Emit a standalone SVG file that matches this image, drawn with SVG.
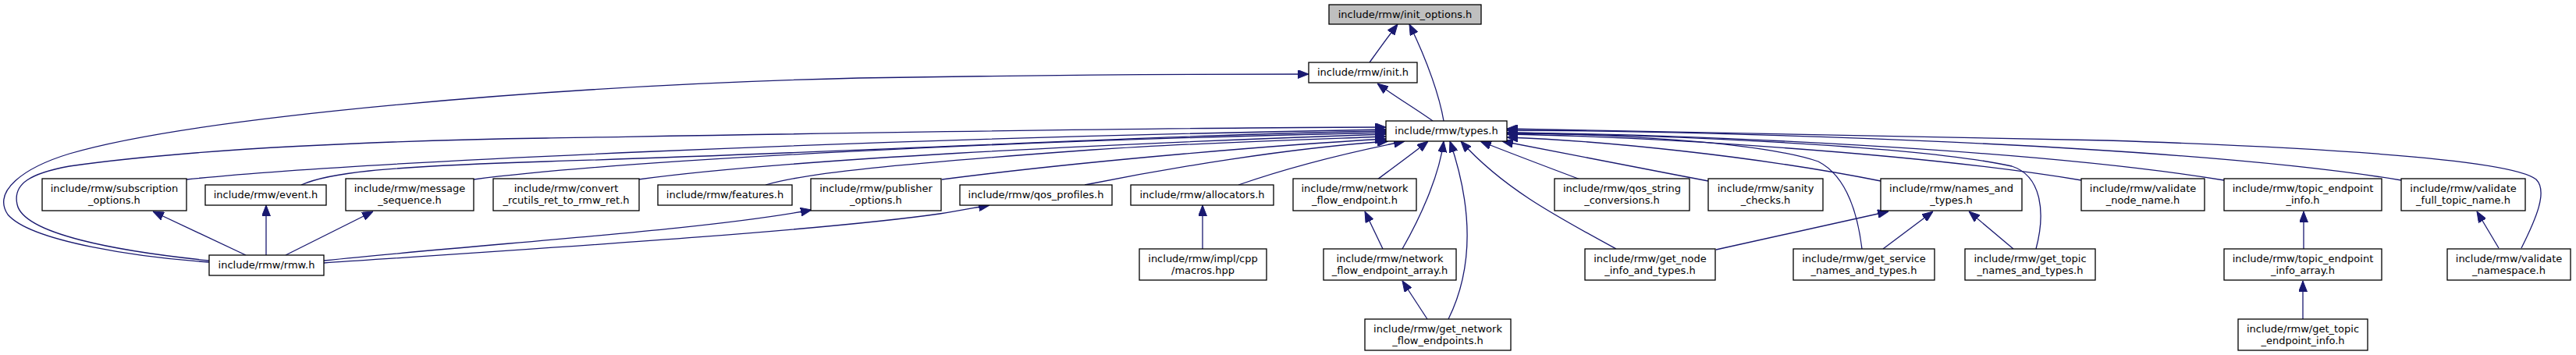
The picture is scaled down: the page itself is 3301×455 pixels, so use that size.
<svg xmlns="http://www.w3.org/2000/svg" width="3301" height="455" viewBox="0 0 3301 455">
<style>
.node rect{fill:#ffffff;stroke:#000000;stroke-width:1.3}
.node rect.root{fill:#bfbfbf}
.node text{font-family:"DejaVu Sans","Liberation Sans",sans-serif;font-size:13px;text-anchor:middle;fill:#000000}
.edges path{fill:none;stroke:#191970;stroke-width:1.3;marker-end:url(#arr)}
</style>
<defs>
<marker id="arr" viewBox="0 0 14 11" refX="14" refY="5.5" markerWidth="14" markerHeight="11" markerUnits="userSpaceOnUse" orient="auto">
<path d="M0,0 L14,5.5 L0,11 Z" fill="#191970" stroke="#191970" stroke-width="1"/>
</marker>
</defs>
<rect x="0" y="0" width="3301" height="455" fill="#ffffff"/>
<g class="edges">
<path d="M1755,80 C1765,66 1778,48 1791,31"/>
<path d="M1850,155 C1845,125 1830,80 1806,31"/>
<path d="M1836,155 C1815,140 1785,122 1765,107"/>
<path d="M268,336 C180,330 40,310 10,275 C-10,245 30,215 89,197 C250,150 700,110 1100,100 C1400,95 1550,95 1677,95"/>
<path d="M268,334 C150,322 30,300 22,262 C16,235 40,222 89,213 C250,190 500,180 700,177 C1000,172 1500,163 1776,163"/>
<path d="M239,230 C450,208 1100,178 1776,166"/>
<path d="M386,237 C420,222 480,214 700,207 C1100,195 1500,172 1776,168"/>
<path d="M607,230 C800,205 1300,180 1776,170"/>
<path d="M818,230 C1000,205 1400,185 1776,172"/>
<path d="M981,237 C1030,222 1150,210 1400,192 C1550,182 1700,178 1776,175"/>
<path d="M1207,230 C1400,205 1650,185 1776,178"/>
<path d="M1390,237 C1500,215 1650,190 1779,181"/>
<path d="M1587,237 C1650,215 1730,195 1800,181"/>
<path d="M1765,230 C1785,215 1810,197 1830,181"/>
<path d="M1797,319 C1825,270 1845,220 1850,181"/>
<path d="M1856,409 C1890,340 1885,260 1858,181"/>
<path d="M2071,319 C1990,275 1925,240 1872,181"/>
<path d="M2025,230 C1985,215 1940,198 1897,181"/>
<path d="M2189,232 C2100,215 2010,198 1925,181"/>
<path d="M2410,232 C2250,200 2050,180 1931,176"/>
<path d="M2386,319 C2380,270 2365,225 2330,207 C2250,180 2050,172 1931,170"/>
<path d="M2609,319 C2622,270 2615,225 2578,213 C2450,185 2100,172 1931,171"/>
<path d="M2667,231 C2450,195 2100,175 1931,172"/>
<path d="M2850,231 C2600,190 2150,172 1931,170"/>
<path d="M3077,231 C2800,185 2200,168 1931,167"/>
<path d="M3231,318 C3250,280 3265,245 3250,230 C3220,205 3000,190 2700,180 C2400,172 2100,166 1931,165"/>
<path d="M315,327 L196,271"/>
<path d="M341,327 L341,263"/>
<path d="M366,327 L478,271"/>
<path d="M415,334 C650,310 900,295 1040,269"/>
<path d="M415,337 C700,318 1050,296 1204,274 C1230,270 1250,266 1268,263"/>
<path d="M1541,319 L1541,263"/>
<path d="M1772,319 L1749,271"/>
<path d="M1829,409 L1797,360"/>
<path d="M2199,320 L2420,271"/>
<path d="M2413,319 L2477,271"/>
<path d="M2580,319 L2523,271"/>
<path d="M2952,319 L2952,271"/>
<path d="M2951,409 L2951,360"/>
<path d="M3202,318 L3174,271"/>
</g>
<g id="node_init_options" class="node"><rect class="root" x="1703" y="6" width="195" height="25"/><text x="1800.5" y="22.5">include/rmw/init_options.h</text></g>
<g id="node_init" class="node"><rect x="1677" y="80" width="139" height="26"/><text x="1746.5" y="96.5">include/rmw/init.h</text></g>
<g id="node_types" class="node"><rect x="1776" y="155" width="155" height="26"/><text x="1853.5" y="171.5">include/rmw/types.h</text></g>
<g id="node_subscription_options" class="node"><rect x="54" y="229" width="185" height="41"/><text x="146.5" y="245.5">include/rmw/subscription</text><text x="146.5" y="260.5">_options.h</text></g>
<g id="node_event" class="node"><rect x="263" y="237" width="155" height="26"/><text x="340.5" y="253.5">include/rmw/event.h</text></g>
<g id="node_message_sequence" class="node"><rect x="443" y="229" width="164" height="41"/><text x="525" y="245.5">include/rmw/message</text><text x="525" y="260.5">_sequence.h</text></g>
<g id="node_convert" class="node"><rect x="632" y="229" width="187" height="41"/><text x="725.5" y="245.5">include/rmw/convert</text><text x="725.5" y="260.5">_rcutils_ret_to_rmw_ret.h</text></g>
<g id="node_features" class="node"><rect x="843" y="237" width="172" height="26"/><text x="929" y="253.5">include/rmw/features.h</text></g>
<g id="node_publisher_options" class="node"><rect x="1039" y="229" width="167" height="41"/><text x="1122.5" y="245.5">include/rmw/publisher</text><text x="1122.5" y="260.5">_options.h</text></g>
<g id="node_qos_profiles" class="node"><rect x="1230" y="237" width="195" height="26"/><text x="1327.5" y="253.5">include/rmw/qos_profiles.h</text></g>
<g id="node_allocators" class="node"><rect x="1449" y="237" width="183" height="26"/><text x="1540.5" y="253.5">include/rmw/allocators.h</text></g>
<g id="node_network_flow_endpoint" class="node"><rect x="1657" y="229" width="158" height="41"/><text x="1736" y="245.5">include/rmw/network</text><text x="1736" y="260.5">_flow_endpoint.h</text></g>
<g id="node_qos_string_conversions" class="node"><rect x="1992" y="229" width="173" height="41"/><text x="2078.5" y="245.5">include/rmw/qos_string</text><text x="2078.5" y="260.5">_conversions.h</text></g>
<g id="node_sanity_checks" class="node"><rect x="2189" y="229" width="147" height="41"/><text x="2262.5" y="245.5">include/rmw/sanity</text><text x="2262.5" y="260.5">_checks.h</text></g>
<g id="node_names_and_types" class="node"><rect x="2410" y="229" width="181" height="41"/><text x="2500.5" y="245.5">include/rmw/names_and</text><text x="2500.5" y="260.5">_types.h</text></g>
<g id="node_validate_node_name" class="node"><rect x="2667" y="229" width="158" height="41"/><text x="2746" y="245.5">include/rmw/validate</text><text x="2746" y="260.5">_node_name.h</text></g>
<g id="node_topic_endpoint_info" class="node"><rect x="2850" y="229" width="202" height="41"/><text x="2951" y="245.5">include/rmw/topic_endpoint</text><text x="2951" y="260.5">_info.h</text></g>
<g id="node_validate_full_topic_name" class="node"><rect x="3077" y="229" width="159" height="41"/><text x="3156.5" y="245.5">include/rmw/validate</text><text x="3156.5" y="260.5">_full_topic_name.h</text></g>
<g id="node_rmw" class="node"><rect x="268" y="327" width="147" height="26"/><text x="341.5" y="343.5">include/rmw/rmw.h</text></g>
<g id="node_macros" class="node"><rect x="1460" y="319" width="163" height="40"/><text x="1541.5" y="335.5">include/rmw/impl/cpp</text><text x="1541.5" y="350.5">/macros.hpp</text></g>
<g id="node_network_flow_endpoint_array" class="node"><rect x="1696" y="319" width="170" height="40"/><text x="1781" y="335.5">include/rmw/network</text><text x="1781" y="350.5">_flow_endpoint_array.h</text></g>
<g id="node_get_node_info_and_types" class="node"><rect x="2031" y="319" width="167" height="40"/><text x="2114.5" y="335.5">include/rmw/get_node</text><text x="2114.5" y="350.5">_info_and_types.h</text></g>
<g id="node_get_service_names_and_types" class="node"><rect x="2298" y="319" width="181" height="40"/><text x="2388.5" y="335.5">include/rmw/get_service</text><text x="2388.5" y="350.5">_names_and_types.h</text></g>
<g id="node_get_topic_names_and_types" class="node"><rect x="2518" y="319" width="167" height="40"/><text x="2601.5" y="335.5">include/rmw/get_topic</text><text x="2601.5" y="350.5">_names_and_types.h</text></g>
<g id="node_topic_endpoint_info_array" class="node"><rect x="2850" y="319" width="202" height="40"/><text x="2951" y="335.5">include/rmw/topic_endpoint</text><text x="2951" y="350.5">_info_array.h</text></g>
<g id="node_validate_namespace" class="node"><rect x="3136" y="319" width="158" height="40"/><text x="3215" y="335.5">include/rmw/validate</text><text x="3215" y="350.5">_namespace.h</text></g>
<g id="node_get_network_flow_endpoints" class="node"><rect x="1749" y="409" width="187" height="40"/><text x="1842.5" y="425.5">include/rmw/get_network</text><text x="1842.5" y="440.5">_flow_endpoints.h</text></g>
<g id="node_get_topic_endpoint_info" class="node"><rect x="2868" y="409" width="166" height="40"/><text x="2951" y="425.5">include/rmw/get_topic</text><text x="2951" y="440.5">_endpoint_info.h</text></g>
</svg>
